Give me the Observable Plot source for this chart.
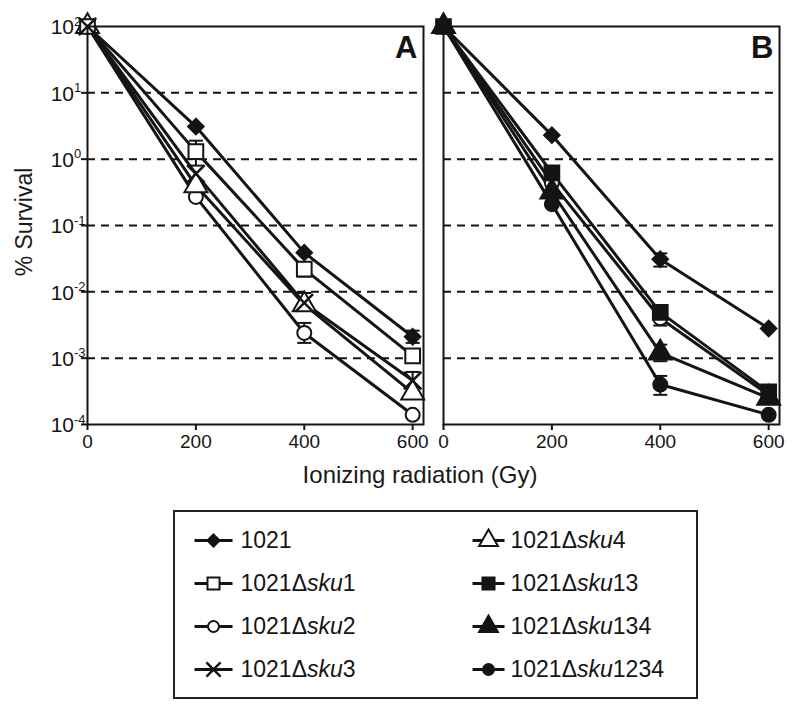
<!DOCTYPE html>
<html>
<head>
<meta charset="utf-8">
<script src="https://cdn.jsdelivr.net/npm/d3@7"></script>
<script src="https://cdn.jsdelivr.net/npm/@observablehq/plot@0.6"></script>
<style>
  html, body { margin: 0; padding: 0; background: #fff; }
  body { font-family: "Liberation Sans", Arial, Helvetica, sans-serif; color: #1a1a1a; }
  #wrap { position: relative; width: 800px; height: 716px; overflow: hidden; }
  #main { position: absolute; left: 0; top: 0; }
  #xtitle { position: absolute; left: 0; width: 840px; top: 461px; text-align: center; font-size: 24px; line-height: 28px; }
  #ytitle { position: absolute; left: 24px; top: 222px; font-size: 23px; line-height: 26px; white-space: nowrap;
            transform: translate(-50%, -50%) rotate(-90deg); }
  #legend { position: absolute; left: 173px; top: 510px; width: 525px; height: 189px; box-sizing: border-box;
            border: 2px solid #222; }
  #legend svg { display: block; }
</style>
</head>
<body>
<div id="wrap">
  <div id="main"></div>
  <div id="ytitle">% Survival</div>
  <div id="xtitle">Ionizing radiation (Gy)</div>
  <div id="legend"></div>
</div>
<script>
// ---------------- data ----------------
const doses = [0, 200, 400, 600];
const panels = ["A", "B"];
const seriesNames = ["1021", "1021Δsku1", "1021Δsku2", "1021Δsku3", "1021Δsku4", "1021Δsku13", "1021Δsku134", "1021Δsku1234"];

// Panel A (% survival at 0, 200, 400, 600 Gy)
const a1021 = [100, 3.1, 0.039, 0.0021];
const aSku1 = [100, 1.3, 0.022, 0.00108];
const aSku2 = [100, 0.27, 0.0024, 0.00014];
const aSku3 = [100, 0.6, 0.0068, 0.00046];
const aSku4 = [100, 0.4, 0.0064, 0.0003];

// Panel B
const b1021 = [100, 2.3, 0.031, 0.0028];
const bSku2 = [100, 0.44, 0.0040, 0.00028];
const bSku13 = [100, 0.62, 0.0049, 0.00031];
const bSku134 = [100, 0.32, 0.0012, 0.00025];
const bSku1234 = [100, 0.21, 0.0004, 0.00014];

// error bars: [panel, series, dose, low, high]
const errorBars = [
  ["A", "1021Δsku1", 200, 0.8, 1.9],
  ["A", "1021Δsku1", 400, 0.017, 0.027],
  ["A", "1021Δsku3", 400, 0.0052, 0.0096],
  ["A", "1021Δsku2", 400, 0.0017, 0.0034],
  ["A", "1021", 600, 0.0017, 0.0026],
  ["A", "1021Δsku3", 600, 0.00036, 0.00062],
  ["B", "1021", 400, 0.024, 0.038],
  ["B", "1021Δsku2", 400, 0.0031, 0.0050],
  ["B", "1021Δsku134", 400, 0.0009, 0.0016],
  ["B", "1021Δsku1234", 400, 0.00028, 0.00054]
];

const yTicks = [1e2, 1e1, 1e0, 1e-1, 1e-2, 1e-3, 1e-4];
const yTickExp = ["2", "1", "0", "-1", "-2", "-3", "-4"];
const xTicks = [0, 200, 400, 600];
const gridValues = [1e1, 1e0, 1e-1, 1e-2, 1e-3];

// ---------------- build table ----------------
const rows = [];
function addSeries(panel, series, values) {
  values.forEach((v, i) => rows.push({panel, series, dose: doses[i], value: v}));
}
addSeries("A", "1021", a1021);
addSeries("A", "1021Δsku1", aSku1);
addSeries("A", "1021Δsku2", aSku2);
addSeries("A", "1021Δsku3", aSku3);
addSeries("A", "1021Δsku4", aSku4);
addSeries("B", "1021", b1021);
addSeries("B", "1021Δsku2", bSku2);
addSeries("B", "1021Δsku134", bSku134);
addSeries("B", "1021Δsku1234", bSku1234);
addSeries("B", "1021Δsku13", bSku13);

const errs = errorBars.map(([panel, series, dose, lo, hi]) => ({panel, series, dose, lo, hi}));

const INK = "#141414";
const styles = {
  "1021":         {symbol: "diamond2", fill: INK,   r: 7},
  "1021Δsku1":    {symbol: "square",   fill: "#fff", r: 8.3},
  "1021Δsku2":    {symbol: "circle",   fill: "#fff", r: 7},
  "1021Δsku3":    {symbol: "times",    fill: "none", r: 8},
  "1021Δsku4":    {symbol: "triangle", fill: "#fff", r: 8.5},
  "1021Δsku13":   {symbol: "square",   fill: INK,   r: 8.3},
  "1021Δsku134":  {symbol: "triangle", fill: INK,   r: 8.5},
  "1021Δsku1234": {symbol: "circle",   fill: INK,   r: 7}
};
const drawOrder = ["1021", "1021Δsku2", "1021Δsku4", "1021Δsku1", "1021Δsku3", "1021Δsku1234", "1021Δsku134", "1021Δsku13"];

const capSymbol = { draw(ctx) { ctx.moveTo(-7, 0); ctx.lineTo(7, 0); } };

const dotMarks = drawOrder.map(s => Plot.dot(rows.filter(d => d.series === s), {
  fx: "panel", x: "dose", y: "value",
  symbol: styles[s].symbol, r: styles[s].r, fill: styles[s].fill,
  stroke: INK, strokeWidth: styles[s].symbol === "times" ? 2.5 : 2
}));

const chart = Plot.plot({
  width: 800,
  height: 490,
  marginLeft: 86,
  marginRight: 20,
  marginTop: 26,
  marginBottom: 66,
  style: {fontFamily: '"Liberation Sans", Arial, Helvetica, sans-serif', color: INK, background: "#fff"},
  fx: {domain: panels, paddingInner: 0.056, paddingOuter: 0, axis: null, label: null},
  x: {domain: [0, 620], label: null},
  y: {type: "log", domain: [1e-4, 1e2], label: null},
  marks: [
    Plot.ruleY(gridValues, {y: d => d, stroke: INK, strokeWidth: 2, strokeDasharray: "8,6"}),
    Plot.axisX({ticks: xTicks, tickSize: 6, tickPadding: 4, fontSize: 19, strokeWidth: 2, label: null, tickFormat: d => String(d)}),
    Plot.axisY({ticks: yTicks, tickSize: 6, strokeWidth: 2, tickFormat: () => "", label: null}),
    Plot.text(yTicks, {fx: () => "A", y: d => d, frameAnchor: "left", text: () => "10", textAnchor: "end", dx: -13.5, dy: 1, fontSize: 21}),
    Plot.text(yTicks, {fx: () => "A", y: d => d, frameAnchor: "left", text: (d, i) => yTickExp[i], textAnchor: "start", dx: -13.5, dy: -5, fontSize: 13}),
    Plot.ruleX(errs, {fx: "panel", x: "dose", y1: "lo", y2: "hi", stroke: INK, strokeWidth: 2}),
    Plot.dot(errs, {fx: "panel", x: "dose", y: "lo", symbol: capSymbol, r: 5, stroke: INK, strokeWidth: 2}),
    Plot.dot(errs, {fx: "panel", x: "dose", y: "hi", symbol: capSymbol, r: 5, stroke: INK, strokeWidth: 2}),
    Plot.line(rows, {fx: "panel", x: "dose", y: "value", z: "series", stroke: INK, strokeWidth: 3}),
    ...dotMarks,
    Plot.frame({stroke: INK, strokeWidth: 2}),
    Plot.text(panels, {fx: d => d, text: d => d, frameAnchor: "top-right", dx: -6, dy: 9, fontSize: 31, fontWeight: "bold"})
  ]
});
document.getElementById("main").appendChild(chart);

// ---------------- legend ----------------
const legendCols = [[0, 1, 2, 3], [4, 5, 6, 7]];
const legendItems = [];
legendCols.forEach((idxs, col) => idxs.forEach((si, row) => legendItems.push({series: seriesNames[si], col, row})));
const colMarkerX = [38, 313];
const colHalfLine = [19, 16];
const colTextGap = [27, 22];
const rowY = row => 28 + row * 43;

const legendMarks = [
  Plot.link(legendItems, {x1: d => colMarkerX[d.col] - colHalfLine[d.col], x2: d => colMarkerX[d.col] + colHalfLine[d.col], y1: d => rowY(d.row), y2: d => rowY(d.row), stroke: INK, strokeWidth: 3})
];
seriesNames.forEach(s => legendMarks.push(Plot.dot(legendItems.filter(d => d.series === s), {
  x: d => colMarkerX[d.col], y: d => rowY(d.row),
  symbol: styles[s].symbol, r: styles[s].r - 1.5, fill: styles[s].fill,
  stroke: INK, strokeWidth: styles[s].symbol === "times" ? 2.5 : 2
})));
legendMarks.push(Plot.text(legendItems, {x: d => colMarkerX[d.col] + colTextGap[d.col], y: d => rowY(d.row), text: "series", textAnchor: "start", fontSize: 23}));

const legend = Plot.plot({
  width: 521, height: 185, margin: 0,
  style: {fontFamily: '"Liberation Sans", Arial, Helvetica, sans-serif', color: INK, background: "#fff"},
  x: {type: "identity", axis: null},
  y: {type: "identity", axis: null},
  marks: legendMarks
});
legend.querySelectorAll("text").forEach(t => {
  const m = /^(1021Δ)(sku)(\d+)$/.exec(t.textContent);
  if (!m) return;
  while (t.firstChild) t.removeChild(t.firstChild);
  const ns = "http://www.w3.org/2000/svg";
  const a = document.createElementNS(ns, "tspan"); a.textContent = m[1];
  const b = document.createElementNS(ns, "tspan"); b.textContent = m[2]; b.setAttribute("font-style", "italic");
  const c = document.createElementNS(ns, "tspan"); c.textContent = m[3];
  t.appendChild(a); t.appendChild(b); t.appendChild(c);
});
document.getElementById("legend").appendChild(legend);
</script>
</body>
</html>
